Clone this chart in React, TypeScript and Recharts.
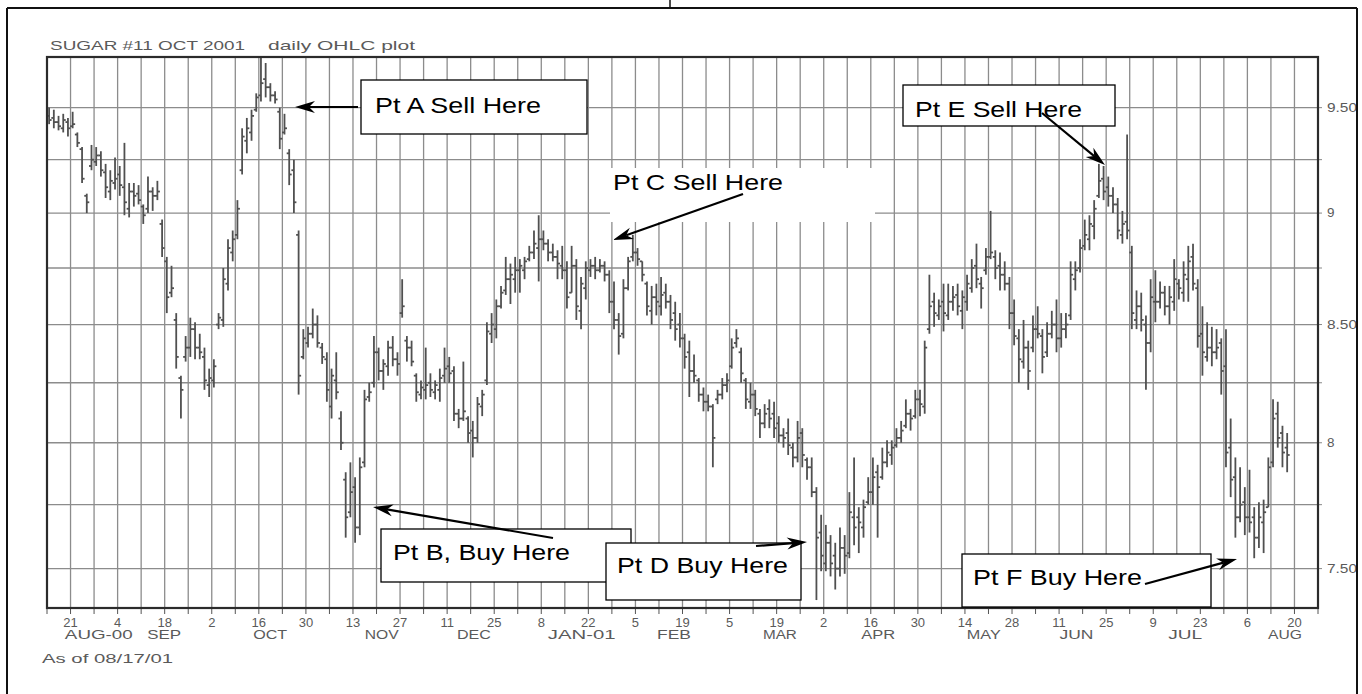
import React from "react";
import { Bar, CartesianGrid, ComposedChart, Line, XAxis, YAxis } from "recharts";

// daily bars, one per weekday starting Mon 14 Aug 2000 (index 0) to Fri 17 Aug 2001
const highs = [
  9.5, 9.49, 9.46, 9.47, 9.45, 9.48, 9.38, 9.31, 9.09, 9.32, 9.31, 9.29, 9.23, 9.2, 9.26, 9.22, 9.33, 9.14, 9.14, 9.13,
  9.04, 9.17, 9.12, 9.15, 8.97, 8.8, 8.76, 8.55, 8.28, 8.45, 8.53, 8.51, 8.46, 8.4, 8.31, 8.35, 8.55, 8.75, 8.88, 8.92,
  9.06, 9.4, 9.45, 9.49, 9.57, 9.75, 9.72, 9.62, 9.58, 9.5, 9.47, 9.3, 9.25, 8.92, 8.48, 8.49, 8.57, 8.54, 8.42, 8.38,
  8.31, 8.38, 8.13, 7.88, 7.92, 7.86, 7.94, 8.22, 8.25, 8.45, 8.4, 8.35, 8.43, 8.45, 8.38, 8.7, 8.45, 8.43, 8.29, 8.26,
  8.4, 8.29, 8.26, 8.31, 8.4, 8.36, 8.32, 8.14, 8.34, 8.11, 8.09, 8.19, 8.22, 8.51, 8.55, 8.61, 8.67, 8.8, 8.77, 8.8,
  8.79, 8.8, 8.85, 8.92, 8.99, 8.92, 8.88, 8.86, 8.83, 8.85, 8.78, 8.85, 8.79, 8.71, 8.78, 8.79, 8.8, 8.79, 8.78, 8.74,
  8.69, 8.55, 8.7, 8.8, 8.9, 8.84, 8.78, 8.69, 8.67, 8.68, 8.71, 8.68, 8.63, 8.6, 8.55, 8.46, 8.43, 8.37, 8.27, 8.23,
  8.2, 8.16, 8.22, 8.27, 8.29, 8.44, 8.48, 8.4, 8.27, 8.25, 8.22, 8.14, 8.16, 8.18, 8.17, 8.11, 8.06, 8.1, 8.0, 8.09,
  8.06, 7.94, 7.94, 7.82, 7.71, 7.67, 7.63, 7.6, 7.66, 7.63, 7.8, 7.94, 7.74, 7.77, 7.86, 7.94, 7.91, 7.98, 8.01, 8.01,
  8.06, 8.09, 8.18, 8.14, 8.22, 8.22, 8.43, 8.72, 8.64, 8.61, 8.68, 8.68, 8.67, 8.68, 8.65, 8.72, 8.79, 8.86, 8.71, 8.84,
  9.01, 8.83, 8.82, 8.78, 8.71, 8.61, 8.48, 8.52, 8.43, 8.54, 8.58, 8.48, 8.51, 8.56, 8.61, 8.55, 8.55, 8.78, 8.78, 8.88,
  8.97, 8.99, 9.06, 9.23, 9.22, 9.17, 9.12, 9.07, 9.01, 9.37, 8.85, 8.65, 8.64, 8.54, 8.7, 8.74, 8.69, 8.67, 8.67, 8.79,
  8.7, 8.78, 8.85, 8.86, 8.7, 8.58, 8.51, 8.49, 8.48, 8.44, 8.48, 8.1, 7.94, 7.9, 7.82, 7.89, 7.74, 7.76, 7.77, 7.94,
  8.18, 8.17, 8.07, 8.04,
];
const lows = [
  9.42, 9.4, 9.39, 9.38, 9.36, 9.4, 9.31, 9.14, 9.0, 9.2, 9.22, 9.17, 9.07, 9.06, 9.11, 9.08, 8.99, 8.98, 9.03, 9.04,
  8.95, 9.0, 9.01, 9.06, 8.8, 8.55, 8.62, 8.31, 8.1, 8.34, 8.36, 8.35, 8.35, 8.22, 8.19, 8.23, 8.48, 8.49, 8.65, 8.78,
  8.88, 9.18, 9.28, 9.34, 9.48, 9.53, 9.55, 9.53, 9.52, 9.3, 9.37, 9.13, 9.0, 8.2, 8.35, 8.4, 8.44, 8.4, 8.33, 8.17,
  8.1, 8.18, 7.97, 7.62, 7.7, 7.6, 7.63, 7.9, 8.17, 8.23, 8.26, 8.22, 8.28, 8.32, 8.28, 8.53, 8.34, 8.32, 8.17, 8.18,
  8.18, 8.19, 8.18, 8.17, 8.25, 8.25, 8.09, 8.06, 8.09, 8.0, 7.94, 8.0, 8.11, 8.24, 8.42, 8.44, 8.57, 8.63, 8.59, 8.64,
  8.64, 8.7, 8.78, 8.79, 8.69, 8.83, 8.78, 8.78, 8.7, 8.7, 8.57, 8.64, 8.52, 8.48, 8.61, 8.71, 8.7, 8.73, 8.69, 8.55,
  8.48, 8.37, 8.44, 8.65, 8.78, 8.76, 8.69, 8.54, 8.5, 8.54, 8.54, 8.57, 8.48, 8.43, 8.4, 8.31, 8.19, 8.25, 8.17, 8.13,
  8.13, 7.9, 8.16, 8.18, 8.21, 8.31, 8.4, 8.25, 8.14, 8.14, 8.11, 8.02, 8.06, 8.06, 8.02, 8.0, 7.98, 7.95, 7.9, 7.92,
  7.9, 7.85, 7.78, 7.38, 7.49, 7.49, 7.47, 7.42, 7.47, 7.48, 7.54, 7.59, 7.56, 7.62, 7.75, 7.75, 7.62, 7.85, 7.9, 7.91,
  7.98, 8.0, 8.06, 8.05, 8.1, 8.11, 8.12, 8.46, 8.49, 8.52, 8.47, 8.52, 8.56, 8.54, 8.48, 8.56, 8.64, 8.66, 8.57, 8.72,
  8.79, 8.7, 8.65, 8.65, 8.48, 8.41, 8.25, 8.31, 8.22, 8.38, 8.44, 8.29, 8.36, 8.44, 8.38, 8.4, 8.44, 8.52, 8.65, 8.73,
  8.83, 8.83, 8.88, 9.07, 9.06, 9.03, 9.0, 8.88, 8.86, 8.88, 8.48, 8.48, 8.47, 8.22, 8.38, 8.51, 8.57, 8.54, 8.5, 8.56,
  8.61, 8.6, 8.6, 8.65, 8.4, 8.28, 8.34, 8.32, 8.35, 8.2, 7.9, 7.78, 7.62, 7.68, 7.63, 7.64, 7.54, 7.58, 7.56, 7.74,
  7.9, 7.98, 7.9, 7.88,
];
const opens = [
  9.46, 9.45, 9.43, 9.4, 9.43, 9.41, 9.37, 9.3, 9.08, 9.22, 9.24, 9.27, 9.19, 9.1, 9.14, 9.18, 9.12, 9.02, 9.1, 9.09,
  9.03, 9.02, 9.1, 9.08, 8.95, 8.78, 8.64, 8.52, 8.27, 8.36, 8.4, 8.48, 8.4, 8.36, 8.24, 8.26, 8.5, 8.52, 8.68, 8.82,
  8.9, 9.2, 9.34, 9.38, 9.49, 9.56, 9.64, 9.6, 9.56, 9.48, 9.38, 9.28, 9.2, 8.9, 8.36, 8.42, 8.46, 8.5, 8.4, 8.35,
  8.15, 8.26, 8.1, 7.85, 7.72, 7.82, 7.66, 7.92, 8.19, 8.25, 8.38, 8.3, 8.32, 8.4, 8.35, 8.55, 8.43, 8.4, 8.28, 8.2,
  8.22, 8.25, 8.21, 8.22, 8.28, 8.32, 8.3, 8.12, 8.1, 8.1, 8.05, 8.02, 8.15, 8.26, 8.46, 8.48, 8.58, 8.65, 8.7, 8.7,
  8.74, 8.74, 8.79, 8.82, 8.84, 8.88, 8.86, 8.82, 8.8, 8.76, 8.74, 8.64, 8.76, 8.56, 8.66, 8.74, 8.76, 8.74, 8.76, 8.72,
  8.6, 8.52, 8.46, 8.66, 8.8, 8.82, 8.78, 8.68, 8.56, 8.62, 8.58, 8.64, 8.6, 8.55, 8.5, 8.44, 8.38, 8.3, 8.26, 8.2,
  8.17, 8.15, 8.18, 8.2, 8.24, 8.32, 8.42, 8.38, 8.26, 8.17, 8.2, 8.12, 8.08, 8.14, 8.12, 8.08, 8.03, 8.04, 7.98, 7.94,
  8.04, 7.93, 7.9, 7.8, 7.64, 7.52, 7.6, 7.55, 7.5, 7.58, 7.56, 7.7, 7.7, 7.66, 7.76, 7.8, 7.88, 7.86, 7.92, 7.95,
  7.99, 8.02, 8.07, 8.12, 8.11, 8.18, 8.15, 8.48, 8.6, 8.54, 8.6, 8.54, 8.6, 8.63, 8.56, 8.6, 8.66, 8.76, 8.68, 8.74,
  8.8, 8.8, 8.76, 8.72, 8.68, 8.55, 8.44, 8.34, 8.4, 8.4, 8.48, 8.45, 8.38, 8.46, 8.5, 8.44, 8.48, 8.54, 8.7, 8.75,
  8.85, 8.88, 8.94, 9.08, 9.16, 9.12, 9.08, 9.04, 8.9, 8.96, 8.82, 8.52, 8.58, 8.5, 8.42, 8.6, 8.6, 8.64, 8.58, 8.6,
  8.68, 8.64, 8.7, 8.8, 8.66, 8.46, 8.36, 8.4, 8.38, 8.42, 8.32, 7.98, 7.86, 7.7, 7.76, 7.7, 7.7, 7.62, 7.68, 7.74,
  7.92, 8.12, 8.04, 7.98,
];
const closes = [
  9.44, 9.43, 9.41, 9.44, 9.4, 9.42, 9.33, 9.16, 9.05, 9.25, 9.27, 9.2, 9.12, 9.15, 9.16, 9.13, 9.05, 9.1, 9.08, 9.06,
  8.99, 9.1, 9.08, 9.1, 8.84, 8.62, 8.66, 8.36, 8.22, 8.4, 8.48, 8.4, 8.38, 8.26, 8.27, 8.32, 8.53, 8.7, 8.84, 8.88,
  9.02, 9.36, 9.4, 9.46, 9.55, 9.62, 9.6, 9.56, 9.54, 9.35, 9.4, 9.18, 9.05, 8.28, 8.44, 8.46, 8.5, 8.42, 8.36, 8.22,
  8.28, 8.21, 8.0, 7.7, 7.8, 7.66, 7.9, 8.18, 8.21, 8.38, 8.3, 8.33, 8.4, 8.35, 8.33, 8.58, 8.4, 8.34, 8.21, 8.23,
  8.24, 8.22, 8.24, 8.27, 8.31, 8.29, 8.12, 8.1, 8.13, 8.04, 8.02, 8.16, 8.2, 8.47, 8.5, 8.58, 8.64, 8.7, 8.72, 8.74,
  8.76, 8.78, 8.82, 8.86, 8.88, 8.86, 8.82, 8.8, 8.77, 8.74, 8.62, 8.76, 8.58, 8.68, 8.75, 8.76, 8.74, 8.76, 8.72, 8.6,
  8.52, 8.45, 8.66, 8.78, 8.82, 8.79, 8.72, 8.58, 8.62, 8.6, 8.63, 8.6, 8.52, 8.48, 8.44, 8.36, 8.3, 8.28, 8.2, 8.17,
  8.15, 8.02, 8.2, 8.24, 8.26, 8.4, 8.44, 8.29, 8.18, 8.2, 8.14, 8.08, 8.12, 8.1, 8.06, 8.03, 8.02, 7.99, 7.94, 8.02,
  7.95, 7.9, 7.8, 7.62, 7.55, 7.6, 7.52, 7.5, 7.58, 7.55, 7.72, 7.66, 7.68, 7.74, 7.8, 7.86, 7.82, 7.92, 7.96, 7.98,
  8.02, 8.05, 8.12, 8.1, 8.18, 8.16, 8.4, 8.58, 8.55, 8.58, 8.55, 8.6, 8.62, 8.58, 8.62, 8.68, 8.75, 8.7, 8.66, 8.8,
  8.82, 8.75, 8.72, 8.68, 8.55, 8.45, 8.35, 8.4, 8.3, 8.48, 8.46, 8.36, 8.46, 8.5, 8.44, 8.48, 8.5, 8.72, 8.74, 8.84,
  8.9, 8.95, 9.02, 9.15, 9.1, 9.08, 9.04, 8.92, 8.95, 8.92, 8.55, 8.58, 8.52, 8.42, 8.62, 8.6, 8.64, 8.58, 8.62, 8.7,
  8.66, 8.72, 8.78, 8.68, 8.45, 8.38, 8.4, 8.38, 8.4, 8.3, 7.96, 7.85, 7.7, 7.75, 7.7, 7.68, 7.62, 7.7, 7.72, 7.9,
  8.1, 8.02, 7.96, 7.95,
];

// every second Monday, from 21 Aug 2000 to 20 Aug 2001
const dayLabels = [
  "21", "4", "18", "2", "16", "30", "13", "27", "11", "25", "8", "22", "5", "19",
  "5", "19", "2", "16", "30", "14", "28", "11", "25", "9", "23", "6", "20",
];
const monthLabels = ["AUG-00", "SEP", "OCT", "NOV", "DEC", "JAN-01", "FEB", "MAR", "APR", "MAY", "JUN", "JUL", "AUG"];
const monthPos = [11, 24.9, 47.4, 71.1, 90.7, 113.6, 133.2, 155.7, 176.6, 199, 218.7, 241.8, 263];
const priceTicks = [7.5, 7.75, 8, 8.25, 8.5, 8.75, 9, 9.25, 9.5];
const priceLabels: Record<string, string> = { "7.5": "7.50", "8": "8", "8.5": "8.50", "9": "9", "9.5": "9.50" };

const weekTicks = Array.from({ length: 55 }, (_, k) => k * 5);

const rows = highs.map((h, i) => ({
  x: i + 0.5,
  high: h,
  low: lows[i],
  open: opens[i],
  close: closes[i],
  range: [lows[i], h],
}));

const notes = [
  { text: "Pt A Sell Here", box: [361, 80, 226, 54], border: true, tx: 375, ty: 113, tw: 166, arrow: [358, 107, 295, 107] },
  { text: "Pt C Sell Here", box: [610, 168, 265, 54], border: false, tx: 613, ty: 190, tw: 170, arrow: [743, 194, 613, 240] },
  { text: "Pt E Sell Here", box: [903, 85, 212, 41], border: true, tx: 915, ty: 117, tw: 167, arrow: [1042, 113, 1105, 165] },
  { text: "Pt B, Buy Here", box: [381, 529, 250, 53], border: true, tx: 393, ty: 560, tw: 177, arrow: [553, 538, 373, 507] },
  { text: "Pt D Buy Here", box: [606, 543, 195, 57], border: true, tx: 617, ty: 573, tw: 171, arrow: [756, 546, 807, 542] },
  { text: "Pt F Buy Here", box: [962, 554, 249, 53], border: true, tx: 973, ty: 585, tw: 169, arrow: [1145, 584, 1237, 559] },
];

const FONT = "'Liberation Sans', Arial, sans-serif";
const LABEL = "#5a5a5a";

function OhlcBar(props: any) {
  const { x, y, width, height, payload } = props;
  if (x == null || y == null) return null;
  const top = Math.min(y, y + height);
  const h = Math.abs(height);
  const cx = x + width / 2;
  const lh = Math.log(payload.high);
  const ll = Math.log(payload.low);
  const at = (v: number) => top + (h * (lh - Math.log(v))) / (lh - ll || 1);
  return (
    <g stroke="#505050" strokeWidth={1.8}>
      <line x1={cx} x2={cx} y1={top} y2={top + h} />
      <line x1={cx - 2.5} x2={cx} y1={at(payload.open)} y2={at(payload.open)} />
      <line x1={cx} x2={cx + 2.5} y1={at(payload.close)} y2={at(payload.close)} />
    </g>
  );
}

function DayTick(props: any) {
  const { x, y, payload } = props;
  const k = (payload.value - 5) / 10;
  const s = Number.isInteger(k) ? dayLabels[k] : undefined;
  if (!s) return null;
  return (
    <text x={x} y={y + 11} textAnchor="middle" fontSize={13} fill={LABEL} fontFamily={FONT}>
      {s}
    </text>
  );
}

function MonthTick(props: any) {
  const { x, y, index } = props;
  const s = monthLabels[index];
  if (!s) return null;
  return (
    <text x={x} y={y + 11} textAnchor="middle" fontSize={12} fill={LABEL} fontFamily={FONT}
      textLength={s.length * 11.3} lengthAdjust="spacingAndGlyphs">
      {s}
    </text>
  );
}

function PriceTick(props: any) {
  const { x, y, payload } = props;
  const s = priceLabels[String(payload.value)];
  if (!s) return null;
  return (
    <text x={x} y={y + 4} fontSize={12} fill={LABEL} fontFamily={FONT}
      textLength={s.length * 7.5} lengthAdjust="spacingAndGlyphs">
      {s}
    </text>
  );
}

function Arrow({ x1, y1, x2, y2 }: { x1: number; y1: number; x2: number; y2: number }) {
  const a = Math.atan2(y2 - y1, x2 - x1);
  const len = 20;
  const half = 6;
  const bx = x2 - len * Math.cos(a);
  const by = y2 - len * Math.sin(a);
  const nx = x2 - len * 0.7 * Math.cos(a);
  const ny = y2 - len * 0.7 * Math.sin(a);
  const px = -Math.sin(a) * half;
  const py = Math.cos(a) * half;
  const pts = `${x2},${y2} ${bx + px},${by + py} ${nx},${ny} ${bx - px},${by - py}`;
  return (
    <g>
      <line x1={x1} y1={y1} x2={nx} y2={ny} stroke="#000" strokeWidth={2.2} />
      <polygon points={pts} fill="#000" />
    </g>
  );
}

export default function App() {
  return (
    <div style={{ position: "absolute", left: 0, top: 0, width: 1362, height: 694, background: "#fff" }}>
      <ComposedChart width={1362} height={694} data={rows} margin={{ top: 57, right: 4, bottom: 52, left: 47 }}>
        <CartesianGrid stroke="#8c8c8c" strokeWidth={1.3} />
        <XAxis
          dataKey="x"
          type="number"
          domain={[0, 270]}
          ticks={weekTicks}
          interval={0}
          allowDataOverflow
          height={20}
          axisLine={false}
          tickSize={6}
          tickMargin={2}
          tickLine={{ stroke: "#555" }}
          tick={<DayTick />}
        />
        <XAxis
          xAxisId="m"
          dataKey="x"
          type="number"
          domain={[0, 270]}
          ticks={monthPos}
          interval={0}
          allowDataOverflow
          height={14}
          axisLine={false}
          tickLine={false}
          tickSize={0}
          tickMargin={0}
          tick={<MonthTick />}
        />
        <YAxis
          orientation="right"
          scale="log"
          domain={[7.35, 9.75]}
          ticks={priceTicks}
          interval={0}
          allowDataOverflow
          width={40}
          axisLine={false}
          tickSize={4}
          tickMargin={5}
          tickLine={{ stroke: "#888" }}
          tick={<PriceTick />}
        />
        <Bar dataKey="range" barSize={5} shape={<OhlcBar />} isAnimationActive={false} />
        {/* invisible series that ties the month axis to the same data range */}
        <Line xAxisId="m" dataKey="close" stroke="none" dot={false} activeDot={false} isAnimationActive={false} />
      </ComposedChart>
      <svg width={1362} height={694} style={{ position: "absolute", left: 0, top: 0, pointerEvents: "none" }}>
        <rect x={47} y={57} width={1271} height={551} fill="none" stroke="#2b2b2b" strokeWidth={2.2} />
        <text x={50} y={50} fontSize={13} fill={LABEL} fontFamily={FONT} textLength={195} lengthAdjust="spacingAndGlyphs">
          SUGAR #11 OCT 2001
        </text>
        <text x={268} y={50} fontSize={13} fill={LABEL} fontFamily={FONT} textLength={147} lengthAdjust="spacingAndGlyphs">
          daily OHLC plot
        </text>
        <text x={42} y={663} fontSize={13} fill={LABEL} fontFamily={FONT} textLength={131} lengthAdjust="spacingAndGlyphs">
          As of 08/17/01
        </text>
        {notes.map((n) => (
          <g key={n.text}>
            <rect x={n.box[0]} y={n.box[1]} width={n.box[2]} height={n.box[3]} fill="#fff"
              stroke={n.border ? "#000" : "none"} strokeWidth={1.3} />
            <text x={n.tx} y={n.ty} fontSize={22} fill="#000" fontFamily={FONT} textLength={n.tw} lengthAdjust="spacingAndGlyphs">
              {n.text}
            </text>
            <Arrow x1={n.arrow[0]} y1={n.arrow[1]} x2={n.arrow[2]} y2={n.arrow[3]} />
          </g>
        ))}
        <line x1={7} y1={8} x2={1357} y2={8} stroke="#111" strokeWidth={2} />
        <line x1={7} y1={8} x2={7} y2={694} stroke="#111" strokeWidth={2} />
        <line x1={1357} y1={8} x2={1357} y2={694} stroke="#111" strokeWidth={2} />
        <line x1={670} y1={0} x2={670} y2={8} stroke="#111" strokeWidth={1.5} />
      </svg>
    </div>
  );
}
